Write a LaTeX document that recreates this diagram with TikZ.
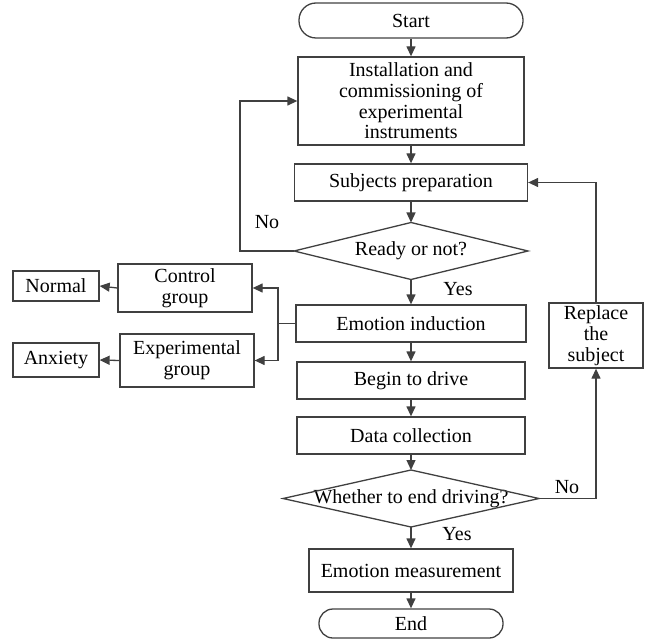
\documentclass[tikz,border=0pt]{standalone}
\usepackage{fontspec}
\setmainfont{Liberation Serif}
\usetikzlibrary{arrows.meta}
\definecolor{linec}{HTML}{404040}
\begin{document}
\begin{tikzpicture}[x=1pt,y=-1pt, font=\rmfamily\fontsize{20}{20.7}\selectfont,
  box/.style={draw=linec, line width=1.3pt, inner sep=0pt, align=center},
  term/.style={box, rounded corners=14pt},
  arr/.style={draw=linec, line width=1.3pt, -{Triangle[length=10pt,width=9pt]}},
  ln/.style={draw=linec, line width=1.3pt},
  lbl/.style={inner sep=0pt, align=center}]
\useasboundingbox (0,0) rectangle (645,639);
% main column
\node[term, rounded corners=17pt, minimum width=224pt, minimum height=35pt] (start) at (411,20.5) {Start};
\node[box, minimum width=226pt, minimum height=88pt] (install) at (411,101) {Installation and\\commissioning of\\experimental\\instruments};
\node[box, minimum width=233pt, minimum height=37pt] (subj) at (411,182.5) {Subjects preparation};
\node[lbl] (ready) at (411,251) {Ready or not?};
\coordinate (readyL) at (294,251);
\coordinate (readyR) at (528,251);
\coordinate (readyT) at (411,222.5);
\coordinate (readyB) at (411,279.5);
\draw[ln] (readyL) -- (readyT) -- (readyR) -- (readyB) -- cycle;
\node[box, minimum width=230pt, minimum height=37pt] (induct) at (411,323.5) {Emotion induction};
\node[box, minimum width=228pt, minimum height=37pt] (drive) at (411,380.5) {Begin to drive};
\node[box, minimum width=228pt, minimum height=37pt] (collect) at (411,435.5) {Data collection};
\node[lbl] (whether) at (411,498.5) {Whether to end driving?};
\coordinate (whL) at (283,498.5);
\coordinate (whR) at (539,498.5);
\coordinate (whT) at (411,470);
\coordinate (whB) at (411,527);
\draw[ln] (whL) -- (whT) -- (whR) -- (whB) -- cycle;
\node[box, minimum width=204pt, minimum height=43pt] (meas) at (411,570.5) {Emotion measurement};
\node[term, minimum width=184pt, minimum height=29pt] (end) at (411,623.5) {End};
% side boxes
\node[box, minimum width=94pt, minimum height=65pt] (replace) at (596,335.5) {Replace\\the\\subject};
\node[box, minimum width=134pt, minimum height=48pt] (ctrl) at (185,288) {Control\\group};
\node[box, minimum width=134pt, minimum height=53pt] (exp) at (187,360.5) {Experimental\\group};
\node[box, minimum width=86pt, minimum height=30pt] (normal) at (56,286) {Normal};
\node[box, minimum width=86pt, minimum height=34pt] (anx) at (56,360) {Anxiety};
% connectors
\draw[arr] (start.south) -- (install.north);
\draw[arr] (install.south) -- (subj.north);
\draw[arr] (subj.south) -- (readyT);
\draw[arr] (readyB) -- (induct.north);
\draw[arr] (induct.south) -- (drive.north);
\draw[arr] (drive.south) -- (collect.north);
\draw[arr] (collect.south) -- (whT);
\draw[arr] (whB) -- (meas.north);
\draw[arr] (meas.south) -- (end.north);
\coordinate (noA) at (240,251);
\draw[arr] (readyL) -- (noA) |- (install.west);
\draw[arr] (whR) -| (replace.south);
\draw[arr] (replace.north) |- (subj.east);
\coordinate (br) at (278,323.5);
\draw[ln] (induct.west) -- (br);
\draw[arr] (br) |- (ctrl.east);
\draw[arr] (br) |- (exp.east);
\draw[arr] (ctrl.west) -- (normal.east);
\draw[arr] (exp.west) -- (anx.east);
% labels
\node[lbl] (no1) at (267,222) {No};
\node[lbl] (yes1) at (458,289) {Yes};
\node[lbl] (no2) at (567,487) {No};
\node[lbl] (yes2) at (457,534) {Yes};
\end{tikzpicture}
\end{document}
